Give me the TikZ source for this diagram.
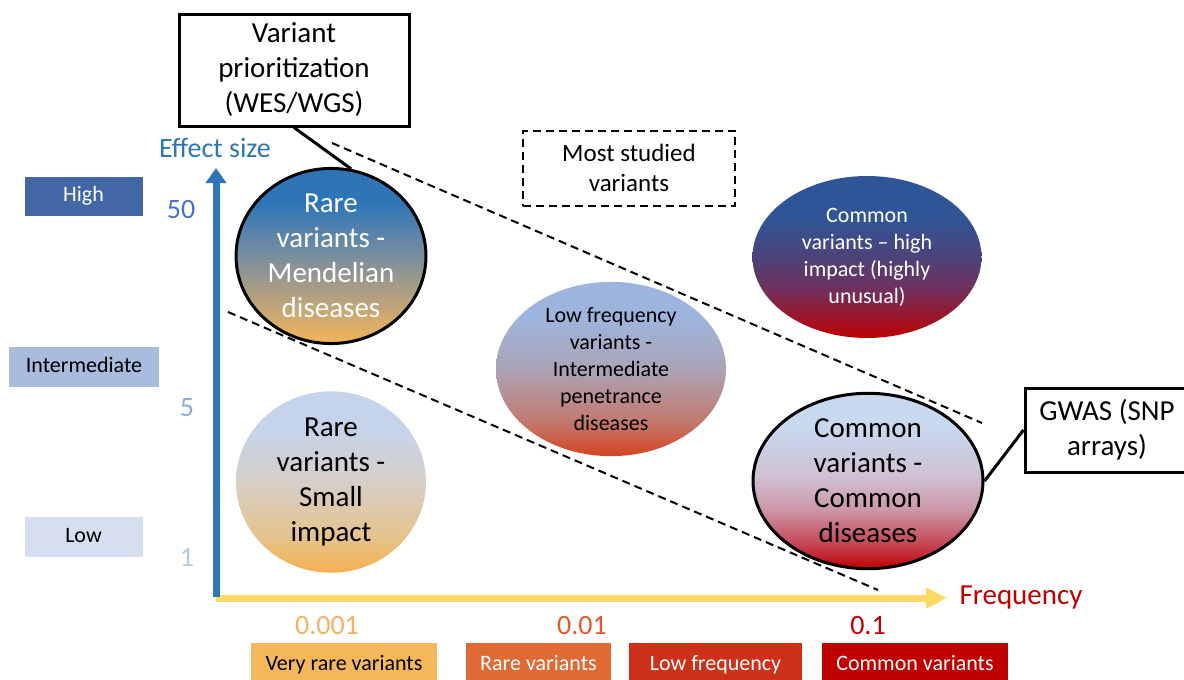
\documentclass[tikz,border=0pt]{standalone}
\usepackage{fontspec}
\setmainfont{Carlito}
\usetikzlibrary{shapes.geometric,arrows.meta}
\definecolor{axblue}{HTML}{2E75B6}
\definecolor{axyellow}{HTML}{FFD966}
\definecolor{hiblue}{HTML}{4267A4}
\definecolor{midblue}{HTML}{A9BCDD}
\definecolor{lowblue}{HTML}{D6DFF0}
\definecolor{num50}{HTML}{4472C4}
\definecolor{num5}{HTML}{8FAADC}
\definecolor{num1}{HTML}{B4C7E7}
\definecolor{vrare}{HTML}{F4B85A}
\definecolor{rare}{HTML}{E06A33}
\definecolor{lowf}{HTML}{CD3119}
\definecolor{common}{HTML}{C00000}
\definecolor{n001}{HTML}{F4B162}
\definecolor{n01}{HTML}{E05A2B}
% shading stops
\definecolor{aA}{HTML}{F4B55A}\definecolor{aB}{HTML}{C4A676}\definecolor{aC}{HTML}{7A8E9E}\definecolor{aD}{HTML}{2E75B6}
\definecolor{bA}{HTML}{F4B04F}\definecolor{bB}{HTML}{E6C38C}\definecolor{bC}{HTML}{D6CFC8}\definecolor{bD}{HTML}{C5D4EB}
\definecolor{cA}{HTML}{D44420}\definecolor{cB}{HTML}{C27A6E}\definecolor{cC}{HTML}{ACA3B6}\definecolor{cD}{HTML}{9DB5DD}
\definecolor{dA}{HTML}{C00000}\definecolor{dB}{HTML}{A80E1C}\definecolor{dC}{HTML}{70305C}\definecolor{dD}{HTML}{4C4379}\definecolor{dE}{HTML}{2F5597}
\definecolor{eA}{HTML}{C00000}\definecolor{eB}{HTML}{C43C4A}\definecolor{eC}{HTML}{CC98A8}\definecolor{eD}{HTML}{D0C2D4}\definecolor{eE}{HTML}{C8D8EE}
\pgfdeclareverticalshading{shA}{100bp}{color(0bp)=(aA); color(25bp)=(aA); color(35bp)=(aB); color(50bp)=(aC); color(65bp)=(aD); color(75bp)=(aD); color(100bp)=(aD)}
\pgfdeclareverticalshading{shB}{100bp}{color(0bp)=(bA); color(25bp)=(bA); color(35bp)=(bB); color(50bp)=(bC); color(65bp)=(bD); color(75bp)=(bD); color(100bp)=(bD)}
\pgfdeclareverticalshading{shC}{100bp}{color(0bp)=(cA); color(25bp)=(cA); color(35bp)=(cB); color(50bp)=(cC); color(65bp)=(cD); color(75bp)=(cD); color(100bp)=(cD)}
\pgfdeclareverticalshading{shD}{100bp}{color(0bp)=(dA); color(25bp)=(dA); color(29bp)=(dB); color(40bp)=(dC); color(50bp)=(dD); color(62bp)=(dE); color(75bp)=(dE); color(100bp)=(dE)}
\pgfdeclareverticalshading{shE}{100bp}{color(0bp)=(eA); color(25bp)=(eA); color(31bp)=(eB); color(42bp)=(eC); color(52bp)=(eD); color(65bp)=(eE); color(75bp)=(eE); color(100bp)=(eE)}
\tikzset{
  bigtxt/.style={font=\fontsize{29}{35}\selectfont},
  smalltxt/.style={font=\fontsize{22}{27}\selectfont},
  ell/.style={ellipse, inner sep=0pt, align=center},
  thickbox/.style={draw=black, line width=3pt, fill=white, align=center, inner sep=0pt},
  dashline/.style={black, line width=2pt, dash pattern=on 8pt off 5pt},
  levelbox/.style={inner sep=0pt, minimum width=118pt, minimum height=39pt, text height=15pt, text depth=4pt, font=\fontsize{22}{27}\selectfont},
  freqbox/.style={inner sep=0pt, minimum height=44pt, text height=15pt, text depth=5pt, font=\fontsize{22}{27}\selectfont},
  axisnum/.style={font=\fontsize{28}{34}\selectfont},
}
\begin{document}
\begin{tikzpicture}[x=1pt,y=-1pt]
\useasboundingbox (0,0) rectangle (1184,680);

% dashed separators
\coordinate (d1a) at (332,143);
\coordinate (d1b) at (982,423);
\coordinate (d2a) at (228,312);
\coordinate (d2b) at (878,590);
\draw[dashline] (d1a) -- (d1b);
\draw[dashline] (d2a) -- (d2b);

% axes
\coordinate (origin) at (216,598);
\coordinate (xtip) at (947,598);
\coordinate (ybase) at (216,597);
\coordinate (ytip) at (216,168);
\draw[axyellow, line width=7pt, -{Triangle[length=21pt,width=20pt]}] (origin) -- (xtip);
\draw[axblue, line width=7pt, -{Triangle[length=15pt,width=20pt]}] (ybase) -- (ytip);

\node[axblue, font=\fontsize{28}{34}\selectfont] (effect) at (215,148) {Effect size};
\node[common, font=\fontsize{29}{35}\selectfont] (freq) at (1021,598) {Frequency};

% y numbers
\node[axisnum, num50] (n50) at (181,210) {50};
\node[axisnum, num5] (n5) at (187,408) {5};
\node[axisnum, num1] (n1) at (187,557) {1};

% level boxes
\node[levelbox, fill=hiblue, text=white] (high) at (83.5,196) {High};
\node[levelbox, fill=midblue, minimum width=150pt, minimum height=40pt] (inter) at (84,367) {Intermediate};
\node[levelbox, fill=lowblue, minimum height=40pt] (low) at (83.5,537) {Low};

% x numbers
\node[axisnum, n001] (x001) at (327,626) {0.001};
\node[axisnum, n01] (x01) at (582,626) {0.01};
\node[axisnum, common] (x1) at (868,626) {0.1};

% frequency boxes
\node[freqbox, fill=vrare, minimum width=186pt] (fvr) at (344,665) {Very rare variants};
\node[freqbox, fill=rare, text=white, minimum width=145pt] (fr) at (538.5,665) {Rare variants};
\node[freqbox, fill=lowf, text=white, minimum width=173pt] (flf) at (715.5,665) {Low frequency};
\node[freqbox, fill=common, text=white, minimum width=186pt] (fcv) at (915,665) {Common variants};

% ellipses
\node[ell, bigtxt, text=white, draw=black, line width=3pt, shade, shading=shA,
      minimum width=190pt, minimum height=164pt] (e1) at (331,256)
      {Rare\\variants -\\Mendelian\\diseases};
\node[ell, bigtxt, text=black, shade, shading=shB,
      minimum width=190pt, minimum height=157pt] (e2) at (331,482)
      {Rare\\variants -\\Small\\impact};
\node[ell, smalltxt, text=black, shade, shading=shC,
      minimum width=230pt, minimum height=162pt] (e3) at (611,369)
      {Low frequency\\variants -\\Intermediate\\penetrance\\diseases};
\node[ell, smalltxt, text=white, shade, shading=shD,
      minimum width=229pt, minimum height=162pt] (e4) at (867,257)
      {Common\\variants -- high\\impact (highly\\unusual)};
\node[ell, bigtxt, text=black, draw=black, line width=3pt, shade, shading=shE,
      minimum width=230pt, minimum height=163pt] (e5) at (868,481)
      {Common\\variants -\\Common\\diseases};

% boxes
\node[thickbox, bigtxt, minimum width=230pt, minimum height=112pt] (vp) at (294,70)
      {Variant\\prioritization\\(WES/WGS)};
\node[thickbox, bigtxt, minimum width=164pt, minimum height=84pt] (gwas) at (1107,430)
      {GWAS (SNP\\arrays)};
\node[draw=black, line width=2pt, dash pattern=on 8pt off 5pt, align=center, inner sep=0pt,
      minimum width=212pt, minimum height=75pt, font=\fontsize{25}{30}\selectfont] (most) at (629,168)
      {Most studied\\variants};

% connectors
\draw[black, line width=3pt] (vp.south) -- (e1.77);
\draw[black, line width=3pt] (gwas.west) -- (e5.east);
\end{tikzpicture}
\end{document}
